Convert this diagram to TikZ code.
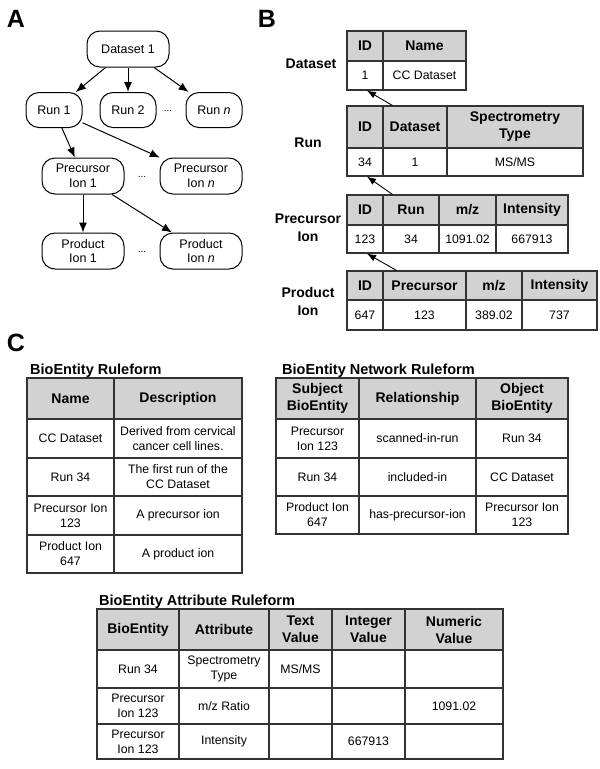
\documentclass[tikz,border=0pt]{standalone}
\usepackage{fontspec}
\setmainfont{Liberation Sans}
\usetikzlibrary{arrows.meta,calc}
\definecolor{lc}{HTML}{333333}
\definecolor{hdgray}{HTML}{D2D2D2}
\newcommand{\datafont}{\fontsize{12.3}{15}\selectfont}
\newcommand{\hdrfont}{\fontsize{14}{17}\selectfont\bfseries}
\newcommand{\nodefont}{\fontsize{12.5}{14.5}\selectfont}
\newcommand{\tcell}[7]{%
  \pgfmathsetmacro{\tcW}{#5-#3}\pgfmathsetmacro{\tcH}{#6-#4}%
  \node[#1, minimum width=\tcW pt, minimum height=\tcH pt] (#2) at ({(#3+#5)/2},{(#4+#6)/2}) {#7};}
\begin{document}
\begin{tikzpicture}[x=1pt,y=-1pt,
  rr/.style={draw, rounded corners=13pt, line width=1pt, align=center, font=\nodefont, inner sep=0pt},
  arrA/.style={line width=1pt, -{Latex[length=10pt,width=8pt]}},
  arrB/.style={line width=0.9pt, -{Latex[length=9pt,width=7pt]}},
  hd/.style={draw=lc, fill=hdgray, line width=1.2pt, align=center, font=\hdrfont, inner sep=0pt},
  dc/.style={draw=lc, fill=white, line width=1.2pt, align=center, font=\datafont, inner sep=0pt},
  panel/.style={font=\fontsize{25}{25}\selectfont\bfseries, inner sep=0pt},
  blab/.style={font=\hdrfont\setlength{\baselineskip}{18pt}, align=center, inner sep=0pt},
  ttl/.style={font=\fontsize{14.5}{17}\selectfont\bfseries, anchor=base west, inner sep=0pt},
  dots/.style={font=\fontsize{10}{12}\selectfont, inner sep=0pt}
]
\useasboundingbox (0,0) rectangle (600,769);

% ---------- Panel labels ----------
\node[panel] (labA) at (16,19) {A};
\node[panel] (labB) at (267,19) {B};
\node[panel] (labC) at (16,343) {C};

% ---------- Panel A ----------
\node[rr, minimum width=82pt, minimum height=36pt] (ds1) at (128,49) {Dataset 1};
\node[rr, minimum width=56pt, minimum height=35pt] (run1) at (54,110) {Run 1};
\node[rr, minimum width=56pt, minimum height=35pt] (run2) at (128,110) {Run 2};
\node[rr, minimum width=56pt, minimum height=35pt] (runn) at (214,110) {Run \textit{n}};
\node[dots] (dA1) at (168,111) {...};
\node[rr, minimum width=82pt, minimum height=36pt] (pi1) at (83,176) {Precursor\\Ion 1};
\node[rr, minimum width=82pt, minimum height=36pt] (pin) at (201,176) {Precursor\\Ion \textit{n}};
\node[dots] (dA2) at (142,177) {...};
\node[rr, minimum width=82pt, minimum height=36pt] (pr1) at (83,251) {Product\\Ion 1};
\node[rr, minimum width=82pt, minimum height=36pt] (prn) at (201,251) {Product\\Ion \textit{n}};
\node[dots] (dA3) at (142,252) {...};
\draw[arrA] (ds1) -- (run1);
\draw[arrA] (ds1) -- (run2);
\draw[arrA] (ds1) -- (runn);
\draw[arrA] (run1) -- (pi1);
\draw[arrA] (run1) -- (pin);
\draw[arrA] (pi1) -- (pr1);
\draw[arrA] (pi1) -- (prn);

% ---------- Panel B ----------
\node[blab] (lbDs) at (311,64) {Dataset};
\node[blab] (lbRun) at (308,143) {Run};
\node[blab] (lbPre) at (308,228) {Precursor\\Ion};
\node[blab] (lbPro) at (308,301) {Product\\Ion};

% Dataset table
\tcell{hd}{dsIDh}{347}{31}{383}{61}{ID}
\tcell{hd}{dsNmh}{383}{31}{466}{61}{Name}
\tcell{dc}{dsID}{347}{61}{383}{90}{1}
\tcell{dc}{dsNm}{383}{61}{466}{90}{CC Dataset}
% Run table
\tcell{hd}{rIDh}{347}{106}{383}{148}{ID}
\tcell{hd}{rDsh}{383}{106}{447}{148}{Dataset}
\tcell{hd}{rSph}{447}{106}{583}{148}{Spectrometry\\Type}
\tcell{dc}{rID}{347}{148}{383}{176}{34}
\tcell{dc}{rDs}{383}{148}{447}{176}{1}
\tcell{dc}{rSp}{447}{148}{583}{176}{MS/MS}
% Precursor table
\tcell{hd}{pIDh}{347}{195}{383}{225}{ID}
\tcell{hd}{pRunh}{383}{195}{439}{225}{Run}
\tcell{hd}{pMzh}{439}{195}{496}{225}{m/z}
\tcell{hd}{pInh}{496}{195}{568}{225}{Intensity}
\tcell{dc}{pID}{347}{225}{383}{253}{123}
\tcell{dc}{pRun}{383}{225}{439}{253}{34}
\tcell{dc}{pMz}{439}{225}{496}{253}{1091.02}
\tcell{dc}{pIn}{496}{225}{568}{253}{667913}
% Product table
\tcell{hd}{qIDh}{347}{271}{383}{300}{ID}
\tcell{hd}{qPreh}{383}{271}{466}{300}{Precursor}
\tcell{hd}{qMzh}{466}{271}{522}{300}{m/z}
\tcell{hd}{qInh}{522}{271}{597}{300}{Intensity}
\tcell{dc}{qID}{347}{300}{383}{330}{647}
\tcell{dc}{qPre}{383}{300}{466}{330}{123}
\tcell{dc}{qMz}{466}{300}{522}{330}{389.02}
\tcell{dc}{qIn}{522}{300}{597}{330}{737}

\draw[arrB] ([xshift=10pt]rDsh.north west) -- ([xshift=2pt]dsID.south);
\draw[arrB] ([xshift=10pt]pRunh.north west) -- ([xshift=2pt]rID.south);
\draw[arrB] ([xshift=14pt]qPreh.north west) -- ([xshift=2pt]pID.south);

% ---------- Panel C ----------
\node[ttl] (t1) at (30,374.5) {BioEntity Ruleform};
\tcell{hd}{aNh}{27}{378}{114}{419}{Name}
\tcell{hd}{aDh}{114}{378}{242}{419}{Description}
\tcell{dc}{aN1}{27}{419}{114}{458}{CC Dataset}
\tcell{dc}{aD1}{114}{419}{242}{458}{Derived from cervical\\cancer cell lines.}
\tcell{dc}{aN2}{27}{458}{114}{496}{Run 34}
\tcell{dc}{aD2}{114}{458}{242}{496}{The first run of the\\CC Dataset}
\tcell{dc}{aN3}{27}{496}{114}{535}{Precursor Ion\\123}
\tcell{dc}{aD3}{114}{496}{242}{535}{A precursor ion}
\tcell{dc}{aN4}{27}{535}{114}{573}{Product Ion\\647}
\tcell{dc}{aD4}{114}{535}{242}{573}{A product ion}

\node[ttl] (t2) at (282,374.5) {BioEntity Network Ruleform};
\tcell{hd}{bSh}{276}{378}{359}{419}{Subject\\BioEntity}
\tcell{hd}{bRh}{359}{378}{476}{419}{Relationship}
\tcell{hd}{bOh}{476}{378}{568}{419}{Object\\BioEntity}
\tcell{dc}{bS1}{276}{419}{359}{458}{Precursor\\Ion 123}
\tcell{dc}{bR1}{359}{419}{476}{458}{scanned-in-run}
\tcell{dc}{bO1}{476}{419}{568}{458}{Run 34}
\tcell{dc}{bS2}{276}{458}{359}{496}{Run 34}
\tcell{dc}{bR2}{359}{458}{476}{496}{included-in}
\tcell{dc}{bO2}{476}{458}{568}{496}{CC Dataset}
\tcell{dc}{bS3}{276}{496}{359}{534}{Product Ion\\647}
\tcell{dc}{bR3}{359}{496}{476}{534}{has-precursor-ion}
\tcell{dc}{bO3}{476}{496}{568}{534}{Precursor Ion\\123}

\node[ttl] (t3) at (99,605) {BioEntity Attribute Ruleform};
\tcell{hd}{cBh}{97}{609}{179}{650}{BioEntity}
\tcell{hd}{cAh}{179}{609}{269}{650}{Attribute}
\tcell{hd}{cTh}{269}{609}{332}{650}{Text\\Value}
\tcell{hd}{cIh}{332}{609}{405}{650}{Integer\\Value}
\tcell{hd}{cNh}{405}{609}{503}{650}{Numeric\\Value}
\tcell{dc}{cB1}{97}{650}{179}{688}{Run 34}
\tcell{dc}{cA1}{179}{650}{269}{688}{Spectrometry\\Type}
\tcell{dc}{cT1}{269}{650}{332}{688}{MS/MS}
\tcell{dc}{cI1}{332}{650}{405}{688}{}
\tcell{dc}{cN1}{405}{650}{503}{688}{}
\tcell{dc}{cB2}{97}{688}{179}{724}{Precursor\\Ion 123}
\tcell{dc}{cA2}{179}{688}{269}{724}{m/z Ratio}
\tcell{dc}{cT2}{269}{688}{332}{724}{}
\tcell{dc}{cI2}{332}{688}{405}{724}{}
\tcell{dc}{cN2}{405}{688}{503}{724}{1091.02}
\tcell{dc}{cB3}{97}{724}{179}{759}{Precursor\\Ion 123}
\tcell{dc}{cA3}{179}{724}{269}{759}{Intensity}
\tcell{dc}{cT3}{269}{724}{332}{759}{}
\tcell{dc}{cI3}{332}{724}{405}{759}{667913}
\tcell{dc}{cN3}{405}{724}{503}{759}{}
\end{tikzpicture}
\end{document}
